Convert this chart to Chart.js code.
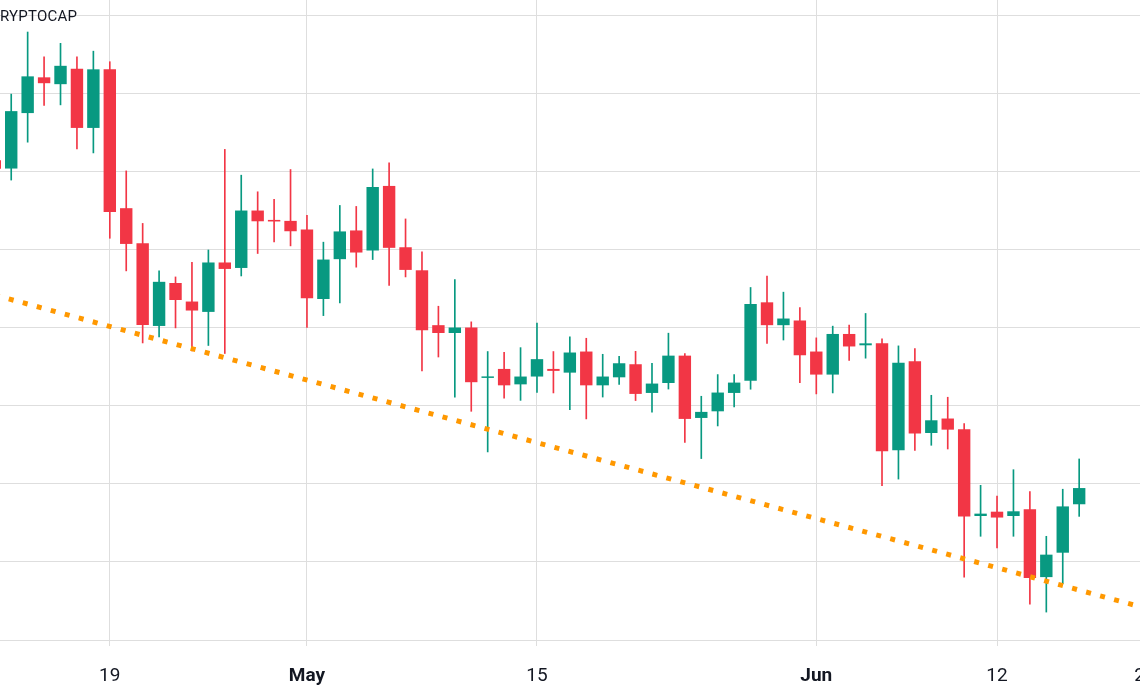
<!DOCTYPE html>
<html>
<head>
<meta charset="utf-8">
<script src="https://cdn.jsdelivr.net/npm/chart.js@4.4.0/dist/chart.umd.min.js"></script>
<style>
  html, body { margin: 0; padding: 0; background: #fff; }
  body { width: 1140px; height: 694px; overflow: hidden; position: relative; }
  #wrap { position: absolute; left: 0; top: 0; width: 1200px; height: 694px; }
  #symbol {
    position: absolute; left: 0; top: 7px; z-index: 2;
    font: 15px Roboto, sans-serif; color: #131722; letter-spacing: 0.2px;
  }
</style>
</head>
<body>
<div id="symbol">RYPTOCAP</div>
<div id="wrap"><canvas id="chart" width="1200" height="694"></canvas></div>
<script>
// daily candles, Apr 12 .. Jun 17 (x = days from Apr 19)
const dates = [
  'Apr 12','Apr 13','Apr 14','Apr 15','Apr 16','Apr 17','Apr 18','Apr 19','Apr 20','Apr 21',
  'Apr 22','Apr 23','Apr 24','Apr 25','Apr 26','Apr 27','Apr 28','Apr 29','Apr 30','May 1',
  'May 2','May 3','May 4','May 5','May 6','May 7','May 8','May 9','May 10','May 11',
  'May 12','May 13','May 14','May 15','May 16','May 17','May 18','May 19','May 20','May 21',
  'May 22','May 23','May 24','May 25','May 26','May 27','May 28','May 29','May 30','May 31',
  'Jun 1','Jun 2','Jun 3','Jun 4','Jun 5','Jun 6','Jun 7','Jun 8','Jun 9','Jun 10',
  'Jun 11','Jun 12','Jun 13','Jun 14','Jun 15','Jun 16','Jun 17'
]
const firstOffset = -7

// market cap, billions
const opens = [
  1245.7, 1241.4, 1269.8, 1288.1, 1284.6, 1292.5, 1262.2, 1292.2, 1221.1, 1203.2,
  1160.8, 1182.8, 1173.3, 1168.0, 1193.3, 1190.5, 1219.9, 1215.1, 1214.6, 1210.2,
  1174.6, 1195.0, 1209.7, 1199.4, 1232.5, 1201.1, 1189.3, 1161.2, 1157.2, 1160.0,
  1134.2, 1138.8, 1130.9, 1134.9, 1138.8, 1136.9, 1147.7, 1130.4, 1134.5, 1141.2,
  1126.5, 1131.6, 1145.6, 1113.7, 1117.1, 1126.5, 1132.8, 1172.9, 1161.2, 1163.6,
  1147.7, 1135.9, 1156.7, 1150.9, 1151.9, 1097.1, 1142.7, 1106.0, 1113.4, 1107.9,
  1063.5, 1065.7, 1063.5, 1066.9, 1032.2, 1044.7, 1069.5
]
const highs = [
  1250.8, 1279.5, 1311.3, 1298.6, 1305.5, 1298.6, 1301.5, 1296.1, 1240.2, 1213.3,
  1189.0, 1185.9, 1193.4, 1199.7, 1251.2, 1238.0, 1229.5, 1225.6, 1240.9, 1217.4,
  1203.7, 1222.5, 1222.0, 1241.2, 1244.3, 1215.6, 1198.7, 1170.9, 1184.6, 1162.9,
  1147.7, 1147.3, 1149.7, 1162.3, 1147.7, 1155.2, 1154.5, 1146.3, 1145.3, 1147.8,
  1141.7, 1157.1, 1146.7, 1124.8, 1135.9, 1135.9, 1180.5, 1186.4, 1178.1, 1170.2,
  1154.7, 1160.7, 1161.3, 1167.2, 1154.2, 1150.6, 1149.2, 1125.3, 1124.3, 1110.8,
  1079.2, 1073.7, 1087.2, 1076.0, 1053.1, 1077.2, 1092.7
]
const lows = [
  1239.5, 1235.5, 1254.9, 1273.7, 1274.0, 1251.5, 1249.4, 1205.7, 1189.0, 1152.1,
  1155.2, 1159.8, 1148.0, 1150.8, 1146.7, 1186.4, 1197.9, 1203.8, 1201.8, 1160.0,
  1166.1, 1172.6, 1190.9, 1194.8, 1181.5, 1185.9, 1137.8, 1144.9, 1124.4, 1117.1,
  1096.3, 1123.8, 1122.7, 1126.8, 1126.5, 1118.0, 1113.2, 1124.4, 1130.9, 1122.6,
  1116.6, 1128.5, 1101.2, 1092.9, 1109.6, 1119.3, 1128.4, 1151.8, 1153.6, 1131.8,
  1126.0, 1126.5, 1143.2, 1144.3, 1079.0, 1082.4, 1097.1, 1099.7, 1097.8, 1032.2,
  1053.1, 1047.1, 1053.1, 1018.4, 1014.3, 1028.8, 1063.3
]
const closes = [
  1241.3, 1270.8, 1288.6, 1285.1, 1294.0, 1262.2, 1292.2, 1219.1, 1202.8, 1161.3,
  1183.4, 1174.1, 1168.7, 1193.3, 1190.0, 1219.9, 1214.4, 1214.3, 1209.3, 1175.0,
  1194.8, 1209.2, 1198.4, 1232.0, 1200.8, 1189.5, 1158.6, 1157.2, 1160.0, 1132.0,
  1134.9, 1130.4, 1134.9, 1143.8, 1137.8, 1147.2, 1130.4, 1134.9, 1141.7, 1126.0,
  1131.3, 1145.6, 1113.2, 1116.8, 1126.7, 1131.8, 1172.1, 1161.2, 1164.6, 1145.8,
  1135.9, 1156.7, 1150.3, 1151.9, 1096.6, 1141.9, 1105.7, 1112.5, 1107.7, 1063.2,
  1064.7, 1062.7, 1065.9, 1031.7, 1043.7, 1068.4, 1077.8
]

// dotted support line (day offset, value)
const trendDays = [-7, 63]
const trendValues = [1176.6, 1016.4]

// axis
const tickDays = [0, 12, 26, 43, 54, 63]
const tickLabels = ['19', 'May', '15', 'Jun', '12', '21']
const boldLabels = ['May', 'Jun']
const gridLevels = [1000, 1040, 1080, 1120, 1160, 1200, 1240, 1280, 1320]

const UP = '#089981'
const DOWN = '#f23645'
const GRID = '#dedede'

const xs = dates.map((d, i) => i + firstOffset)
const candleColors = closes.map((c, i) => c >= opens[i] ? UP : DOWN)

const ctx = document.getElementById('chart').getContext('2d')
new Chart(ctx, {
  type: 'bar',
  data: {
    datasets: [
      {
        type: 'line',
        data: trendDays.map((d, i) => ({ x: d, y: trendValues[i] })),
        borderColor: '#ff9800',
        borderWidth: 5,
        borderDash: [5, 9.5],
        pointRadius: 0,
        fill: false,
        order: 0
      },
      {
        label: 'body',
        data: xs.map((x, i) => ({ x, y: [opens[i], closes[i]] })),
        backgroundColor: candleColors,
        borderWidth: 0,
        grouped: false,
        categoryPercentage: 1,
        barPercentage: 0.755,
        minBarLength: 1.5,
        order: 1
      },
      {
        label: 'wick',
        data: xs.map((x, i) => ({ x, y: [lows[i], highs[i]] })),
        backgroundColor: candleColors,
        borderWidth: 0,
        grouped: false,
        barThickness: 1,
        order: 2
      }
    ]
  },
  options: {
    responsive: false,
    animation: false,
    devicePixelRatio: 1,
    layout: { padding: 0 },
    plugins: {
      legend: { display: false },
      tooltip: { enabled: false }
    },
    scales: {
      x: {
        type: 'linear',
        min: -6.683,
        max: 66.354,
        offset: false,
        afterBuildTicks: scale => {
          scale.ticks = tickDays.map(v => ({ value: v }))
        },
        afterFit: scale => { scale.height = 54 },
        grid: { color: GRID, offset: false, tickLength: 6 },
        border: { display: false },
        ticks: {
          autoSkip: false,
          maxRotation: 0,
          padding: 19,
          color: '#131722',
          font: c => ({
            family: 'Roboto, sans-serif',
            size: 19,
            weight: boldLabels.includes(tickLabels[c.index]) ? 'bold' : 'normal'
          }),
          callback: (v, i) => tickLabels[i]
        }
      },
      y: {
        min: 1000,
        max: 1327.7,
        afterBuildTicks: scale => {
          scale.ticks = gridLevels.map(v => ({ value: v }))
        },
        afterFit: scale => { scale.width = 0 },
        grid: { color: GRID, drawTicks: false },
        border: { display: false },
        ticks: { display: false }
      }
    }
  }
})
</script>
</body>
</html>
